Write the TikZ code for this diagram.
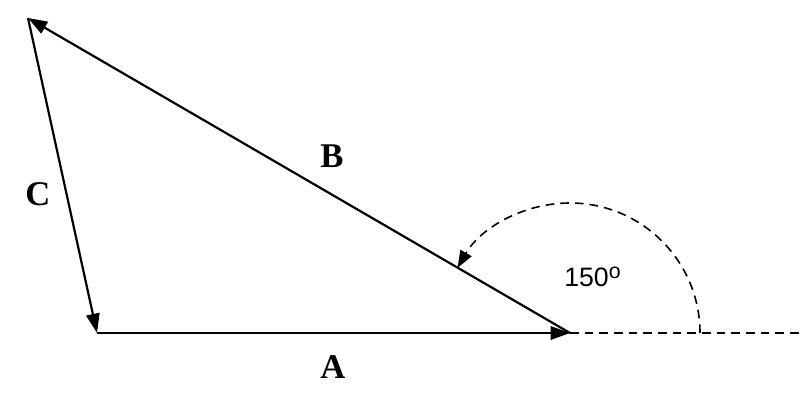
\documentclass[tikz,border=0pt]{standalone}
\usepackage{fontspec}
\setmainfont{Liberation Serif}
\newfontfamily\arialfont{Liberation Sans}
\usetikzlibrary{arrows.meta}
\begin{document}
\begin{tikzpicture}[x=0.75pt,y=-0.75pt,
  vec/.style={line width=1.65pt,-{Triangle[length=14.5pt,width=10pt]}},
  dashline/.style={line width=1.2pt,dash pattern=on 6.5pt off 4.5pt},
  lbl/.style={font=\fontsize{26}{28}\selectfont\bfseries,inner sep=0pt},
  anglbl/.style={font=\arialfont\fontsize{20}{22}\selectfont,inner sep=0pt}]
\useasboundingbox (0,0) rectangle (800,413);
\coordinate (P) at (97,333);
\coordinate (Q) at (570,333);
\coordinate (R) at (28,18);
\coordinate (E) at (800,333);
\draw[vec] (P) -- (Q);
\draw[vec] (Q) -- (R);
\draw[vec] (R) -- (P);
\draw[dashline] (Q) -- (E);
\draw[dashline,-{Triangle[length=13pt,width=9.5pt]}] ([xshift=130*0.75pt]Q) arc[start angle=0,end angle=150,x radius=130,y radius=-130];
\node[lbl] (la) at (333,367) {A};
\node[lbl] (lb) at (332,156) {B};
\node[lbl] (lc) at (38,194) {C};
\node[anglbl,anchor=west] (ang) at (564,277) {150\raisebox{6pt}{\fontsize{16}{16}\selectfont o}};
\end{tikzpicture}
\end{document}
